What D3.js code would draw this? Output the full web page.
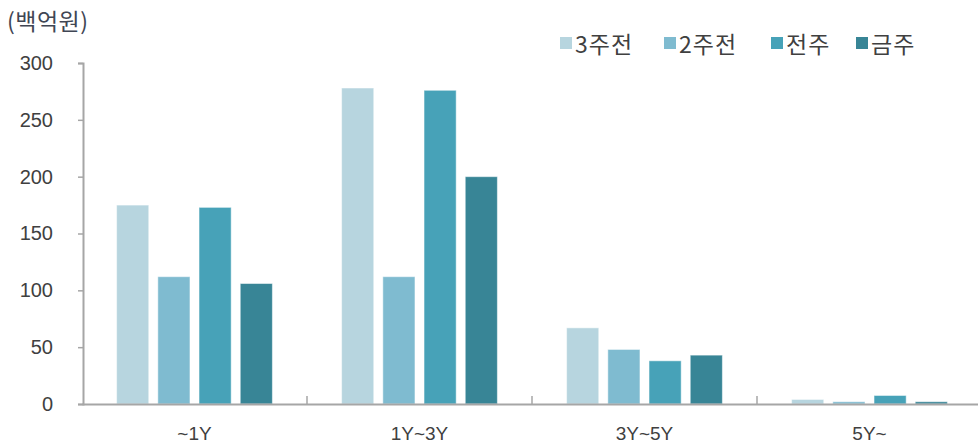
<!DOCTYPE html>
<html><head><meta charset="utf-8">
<script src="https://cdn.jsdelivr.net/npm/d3@7"></script>
<style>body{margin:0;background:#fff;}svg{display:block;font-family:"Noto Sans CJK KR","Noto Sans",sans-serif;}</style>
</head><body><svg id="c" width="978" height="446"></svg>
<script>
const categories = ["~1Y", "1Y~3Y", "3Y~5Y", "5Y~"];
const seriesNames = ["3주전", "2주전", "전주", "금주"];
const values3w = [175, 278, 67, 4];
const values2w = [112, 112, 48, 2];
const valuesPrev = [173, 276, 38, 7.5];
const valuesThis = [106, 200, 43, 2];
const yTicks = [0, 50, 100, 150, 200, 250, 300];
const unitLabel = "(백억원)";
const colors = ["#b7d5df", "#7fbbd0", "#47a2b8", "#388596"];

const seriesValues = [values3w, values2w, valuesPrev, valuesThis];
const svg = d3.select("#c");
const x0 = d3.scaleBand().domain(categories).range([82, 982]).padding(0);
const x1 = d3.scaleBand().domain(seriesNames).range([0, x0.bandwidth()]).paddingInner(0.22).paddingOuter(0.84);
const y = d3.scaleLinear().domain([0, 300]).range([404, 63]);
const textColor = "#404040";
const numFont = "'Liberation Sans',Arial,sans-serif";

// bars
categories.forEach((c, ci) => {
  const g = svg.append("g").attr("transform", `translate(${x0(c)},0)`);
  seriesNames.forEach((s, si) => {
    const v = seriesValues[si][ci];
    g.append("rect")
      .attr("x", x1(s)).attr("width", x1.bandwidth())
      .attr("y", y(v)).attr("height", y(0) - y(v))
      .attr("fill", colors[si])
      .attr("stroke", "rgba(255,255,255,0.5)").attr("stroke-width", 1);
  });
});

// y axis
const yAxis = d3.axisLeft(y).tickValues(yTicks).tickSize(5).tickPadding(25);
const ya = svg.append("g").attr("transform", "translate(83,0)").call(yAxis);
ya.select(".domain").attr("stroke", "#a6a6a6").attr("stroke-width", 2);
ya.selectAll(".tick line").attr("stroke", "#a6a6a6").attr("stroke-width", 1.5);
ya.selectAll(".tick text").attr("fill", textColor).style("font-size", "20px").style("font-family", numFont);

// x axis
const xAxis = d3.axisBottom(x0).tickSize(0).tickPadding(23);
const xa = svg.append("g").attr("transform", "translate(0,404)").call(xAxis);
xa.select(".domain").attr("stroke", "#a6a6a6").attr("stroke-width", 2);
xa.selectAll(".tick text").attr("fill", textColor).style("font-size", "19px").style("font-family", numFont);
// category separator ticks
categories.slice(1).forEach(c => {
  svg.append("line").attr("x1", x0(c)).attr("x2", x0(c)).attr("y1", 396).attr("y2", 404)
    .attr("stroke", "#a6a6a6").attr("stroke-width", 1.5);
});

// unit label
svg.append("text").attr("x", 7).attr("y", 30).text(unitLabel)
  .attr("fill", "#404654").style("font-size", "23px").style("letter-spacing", "0.5px");

// legend
const legendX = [560, 664, 771, 856];
seriesNames.forEach((s, i) => {
  svg.append("rect").attr("x", legendX[i]).attr("y", 37).attr("width", 12).attr("height", 12).attr("fill", colors[i]);
  svg.append("text").attr("x", legendX[i] + 15).attr("y", 53).text(s)
    .attr("fill", textColor).style("font-size", "23px").style("letter-spacing", "1px");
});
</script></body></html>
